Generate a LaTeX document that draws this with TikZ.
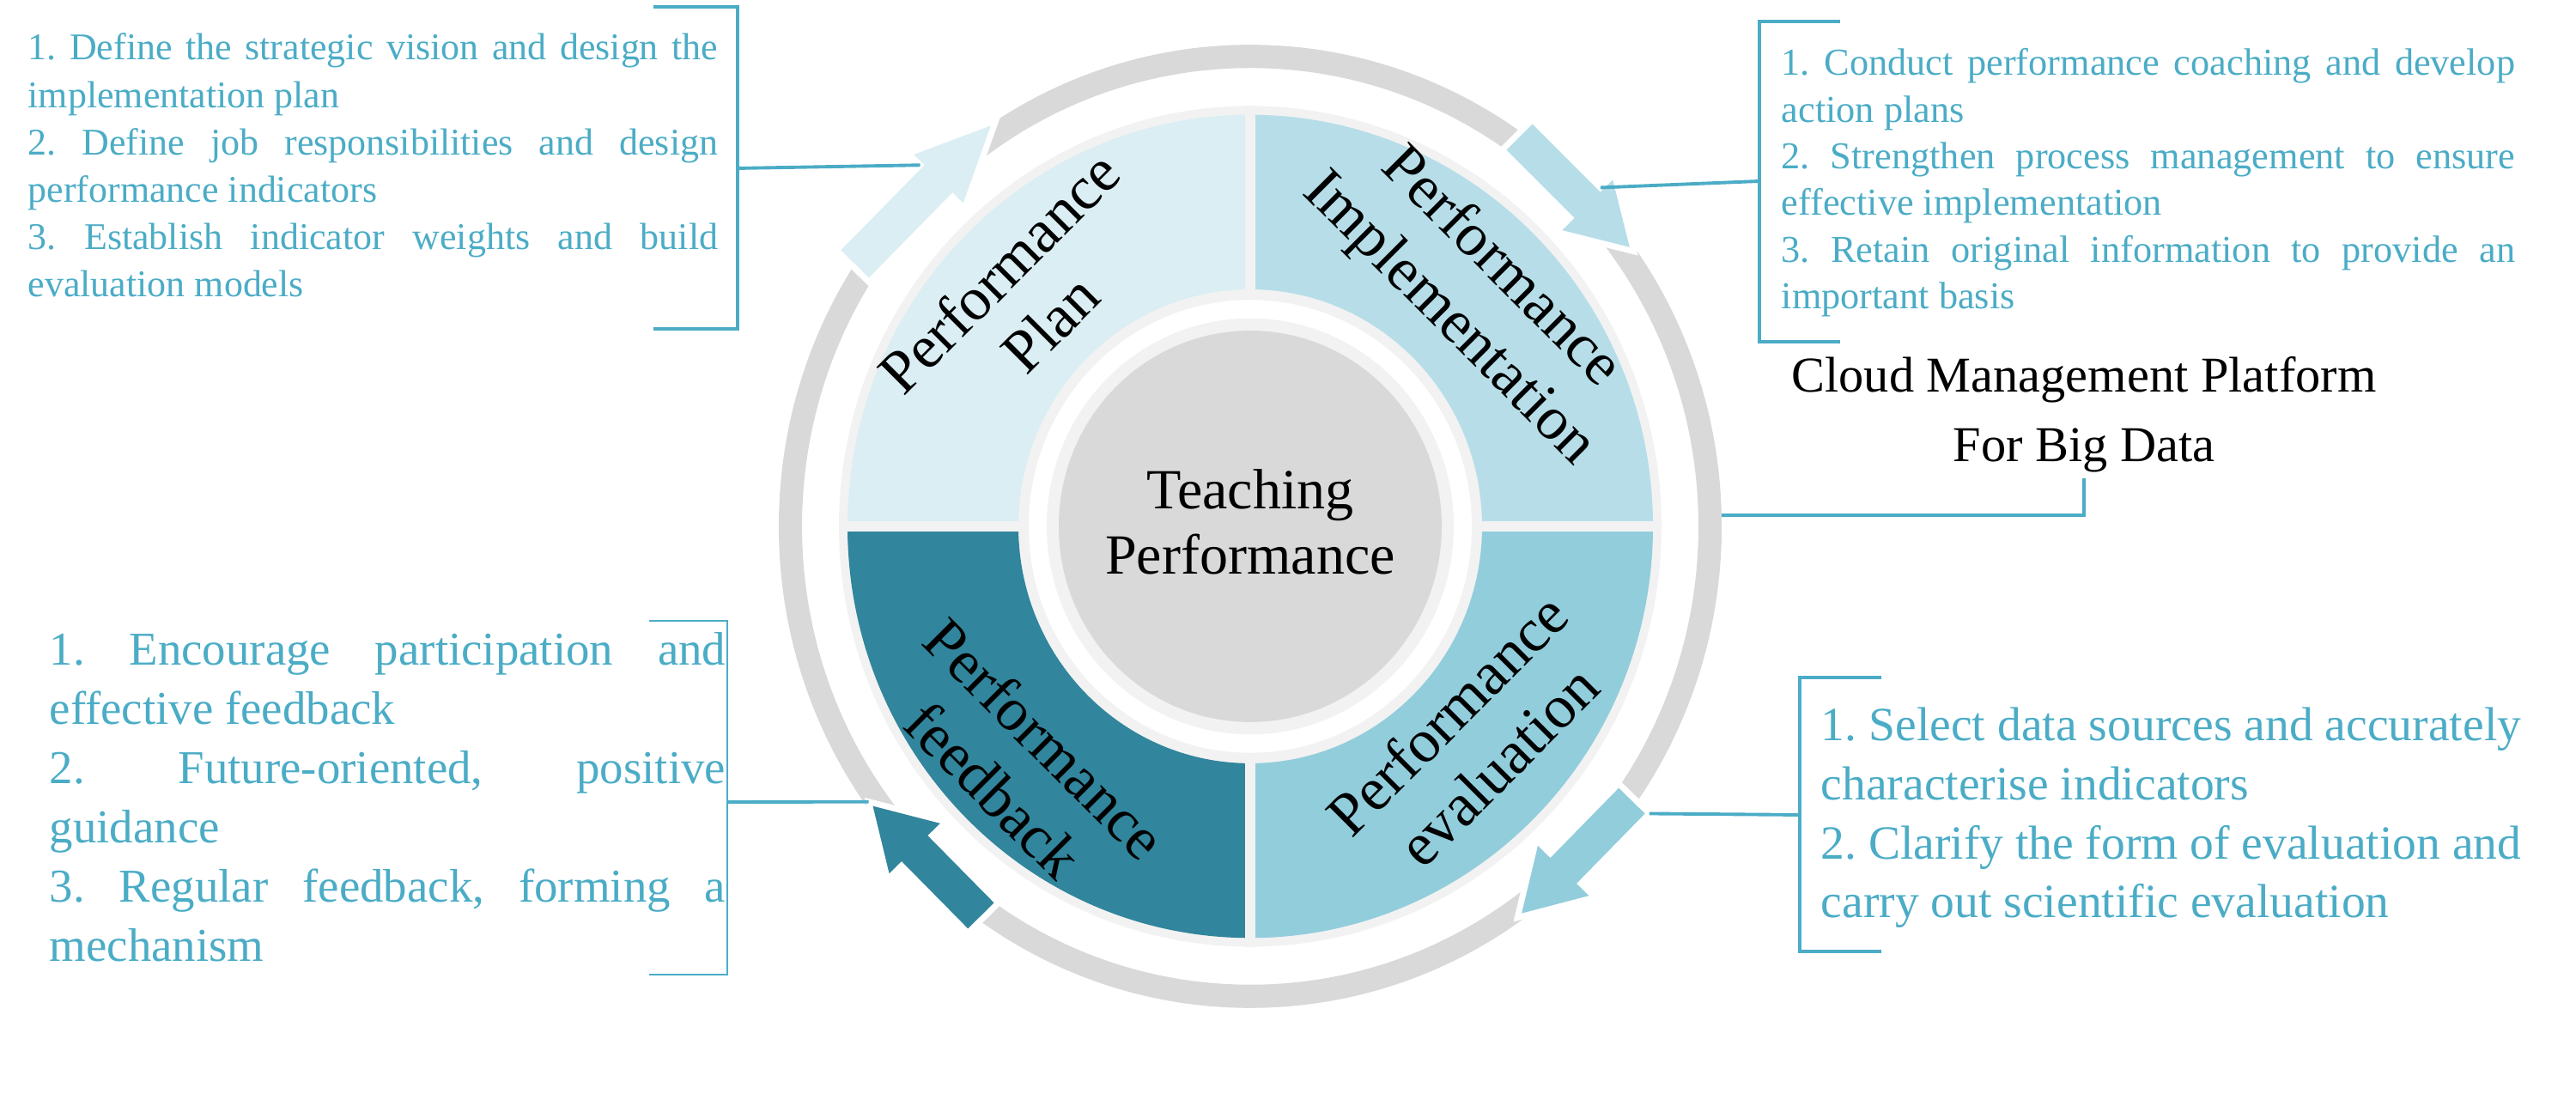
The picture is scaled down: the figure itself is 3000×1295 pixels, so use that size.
\documentclass[tikz,border=0pt]{standalone}
\usepackage{fontspec}
\setmainfont{Liberation Serif}
\definecolor{plancol}{RGB}{218,238,243}
\definecolor{implcol}{RGB}{183,222,232}
\definecolor{evalcol}{RGB}{146,205,220}
\definecolor{feedcol}{RGB}{49,133,156}
\definecolor{ringgray}{RGB}{217,217,217}
\definecolor{palegray}{RGB}{242,242,242}
\definecolor{accent}{RGB}{75,172,198}
\newcommand{\jline}[1]{\makebox[\linewidth][s]{#1}}
\newcommand{\ringarrow}[9]{%
  \begin{scope}[shift={(#3,#4)}, rotate=#5]
    \filldraw[fill=#2, arrowshape] (0,-#8) -- ({#6-#7},-#8) -- ({#6-#7},-#9) -- (#6,0) -- ({#6-#7},#9) -- ({#6-#7},#8) -- (0,#8) -- cycle;
    \coordinate (#1end) at (0,#8);
    \coordinate (#1neck) at ({#6-#7},#8);
    \coordinate (#1tip) at (#6,0);
  \end{scope}}
\frenchspacing
\begin{document}
\begin{tikzpicture}[x=0.01cm,y=0.01cm,
  conn/.style={draw=accent, line width=1.1pt},
  arrowshape/.style={draw=white, line width=2pt, line join=miter},
  seglabel/.style={font=\fontsize{20.2}{24}\selectfont, align=center, inner sep=0pt, text=black},
  bluetext/.style={anchor=base west, inner sep=0pt, text=accent}]
\useasboundingbox (0,0) rectangle (3000,1295);

% ---- outer ring, segments, inner circle
\begin{scope}[shift={(1456,682)}, yscale=1.022]
  \draw[ringgray, line width=7.7pt] (0,0) circle (535.5);
  \fill[palegray] (0,0) circle (479);
  \fill[plancol] (90:469) arc[start angle=90, end angle=180, radius=469] -- (180:270) arc[start angle=180, end angle=90, radius=270] -- cycle;
  \fill[implcol] (0:469) arc[start angle=0, end angle=90, radius=469] -- (90:270) arc[start angle=90, end angle=0, radius=270] -- cycle;
  \fill[evalcol] (-90:469) arc[start angle=-90, end angle=0, radius=469] -- (0:270) arc[start angle=0, end angle=-90, radius=270] -- cycle;
  \fill[feedcol] (180:469) arc[start angle=180, end angle=270, radius=469] -- (270:270) arc[start angle=270, end angle=180, radius=270] -- cycle;
  \draw[palegray, line width=3.2pt] (-479,0) -- (479,0) (0,-479) -- (0,479);
  \fill[white] (0,0) circle (258);
  \fill[palegray] (0,0) circle (237);
  \fill[ringgray] (0,0) circle (223);
\end{scope}

% ---- arrows on the ring
\ringarrow{tl}{plancol}{993}{985}{45.5}{238}{99}{26.5}{46}
\ringarrow{tr}{implcol}{1767}{1138}{-45}{192}{80}{25}{48}
\ringarrow{br}{evalcol}{1903}{365}{-134.4}{194}{80}{25}{48}
\ringarrow{bl}{feedcol}{1145}{226}{134.6}{190}{80}{25}{48}

% ---- labels in the wheel
\node[seglabel, rotate=45] (plan) at (1193,948) {Performance\\Plan};
\node[seglabel, rotate=-45] (impl) at (1717,953) {Performance\\Implementation};
\node[seglabel, rotate=45] (eval) at (1715,433) {Performance\\evaluation};
\node[seglabel, rotate=-45] (feed) at (1187,405) {Performance\\feedback};
\node[align=center, inner sep=0pt, font=\fontsize{18.8}{21.6}\selectfont] (center) at (1456,687) {Teaching\\Performance};

% ---- text blocks
\node[bluetext, font=\fontsize{12.5}{15.65}\selectfont] (tltext) at (32,1225) {\parbox[t]{8.03cm}{%
  \jline{1. Define the strategic vision and design the}\\
  implementation plan\\
  \jline{2. Define job responsibilities and design}\\
  performance indicators\\
  \jline{3. Establish indicator weights and build}\\
  evaluation models}};
\node[bluetext, font=\fontsize{12.6}{15.45}\selectfont] (trtext) at (2074,1207) {\parbox[t]{8.54cm}{%
  \jline{1. Conduct performance coaching and develop}\\
  action plans\\
  \jline{2. Strengthen process management to ensure}\\
  effective implementation\\
  \jline{3. Retain original information to provide an}\\
  important basis}};
\node[bluetext, font=\fontsize{15.8}{19.5}\selectfont] (brtext) at (2120,432) {\parbox[t]{8.15cm}{%
  \jline{1. Select data sources and accurately}\\
  characterise indicators\\
  \jline{2. Clarify the form of evaluation and}\\
  carry out scientific evaluation}};
\node[bluetext, font=\fontsize{15.6}{19.6}\selectfont] (bltext) at (57,520) {\parbox[t]{7.87cm}{%
  \jline{1. Encourage participation and}\\
  effective feedback\\
  \jline{2. Future-oriented, positive}\\
  guidance\\
  \jline{3. Regular feedback, forming a}\\
  mechanism}};
\node[anchor=base, inner sep=0pt, font=\fontsize{16.6}{22.8}\selectfont] (cloud) at (2427,838) {\parbox[t]{9cm}{\centering Cloud Management Platform\\For Big Data}};

% ---- brackets and connectors
\coordinate (tlhook) at (859,1099);
\coordinate (trhook) at (2049,1084);
\coordinate (brhook) at (2096,346);
\coordinate (blhook) at (847,361);
\coordinate (ringE) at (2005,695);
\coordinate (cloudhook) at (2427,738);

\draw[conn] (761,1287) -- (859,1287) -- (859,912) -- (761,912);
\draw[conn] (2143,1270) -- (2049,1270) -- (2049,897) -- (2143,897);
\draw[conn] (2191,506) -- (2096,506) -- (2096,187) -- (2191,187);
\draw[conn, line width=0.7pt] (756,572) -- (847,572) -- (847,160) -- (756,160);

\draw[conn] (tlhook) -- (tlneck);
\draw[conn] (trhook) -- (trneck);
\draw[conn] (brhook) -- (brend);
\draw[conn] (blhook) -- (bltip);
\draw[conn] (ringE) -| (cloudhook);
\end{tikzpicture}
\end{document}
